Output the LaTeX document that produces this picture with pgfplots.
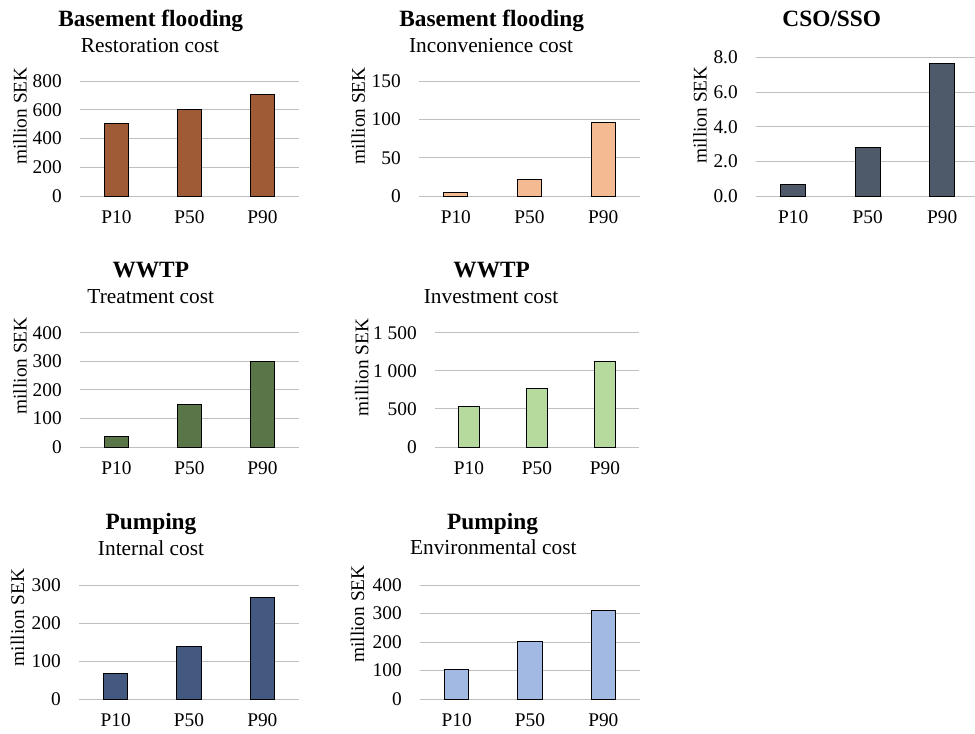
\documentclass[border=0pt]{standalone}
\usepackage{pgfplots}
\pgfplotsset{compat=1.18}
\usepackage{fontspec}
\setmainfont{Liberation Serif}

\definecolor{brownbar}{HTML}{9E5B35}
\definecolor{peachbar}{HTML}{F4BA92}
\definecolor{slatebar}{HTML}{4E5969}
\definecolor{greenbar}{HTML}{5A7548}
\definecolor{lgreenbar}{HTML}{B6D99E}
\definecolor{navybar}{HTML}{44597F}
\definecolor{lbluebar}{HTML}{A2B9E3}
\definecolor{gridgray}{HTML}{BFBFBF}

\newcommand\tickfont{\fontsize{14.5}{17}\selectfont}
\newcommand\titlefont{\fontsize{17.5}{20}\selectfont\bfseries}
\newcommand\subfont{\fontsize{16}{19}\selectfont}

\pgfplotsset{
  panel/.style={
    scale only axis, anchor=south west,
    xmin=-0.5, xmax=2.5, ymin=0,
    xtick={0,1,2}, xticklabels={P10,P50,P90},
    axis line style={draw=none},
    major tick length=0pt,
    ymajorgrids,
    grid style={draw=gridgray, line width=0.75pt},
    tick label style={font=\tickfont},
    yticklabel style={inner sep=0pt, anchor=east, xshift=-13.5pt},
    xticklabel style={inner sep=0pt, anchor=north, yshift=-11pt},
    bar width=0.33, clip=false,
  },
  costbar/.style={ybar, draw=black, line width=0.75pt, fill=#1},
}

\begin{document}
\begin{tikzpicture}
\useasboundingbox (0,0) rectangle (731.25pt,-549.75pt);

% ---- Basement flooding: restoration cost
\begin{axis}[panel, at={(60pt,-147pt)}, width=164.25pt, height=86.25pt,
  ymax=800, ytick={0,200,400,600,800}, yticklabels={0,200,400,600,800}]
\addplot[costbar=brownbar] coordinates {(0,505) (1,600) (2,705)};
\end{axis}
\node[anchor=base, font=\titlefont] at (113.1pt,-20pt) {Basement flooding};
\node[anchor=base, font=\subfont] at (112.5pt,-39.2pt) {Restoration cost};
\node[rotate=90, font=\tickfont] at (15pt,-87pt) {million SEK};

% ---- Basement flooding: inconvenience cost
\begin{axis}[panel, at={(314.25pt,-147pt)}, width=165.75pt, height=86pt,
  ymax=150, ytick={0,50,100,150}, yticklabels={0,50,100,150}]
\addplot[costbar=peachbar] coordinates {(0,5) (1,22) (2,96)};
\end{axis}
\node[anchor=base, font=\titlefont] at (368.8pt,-20pt) {Basement flooding};
\node[anchor=base, font=\subfont] at (368.3pt,-39.2pt) {Inconvenience cost};
\node[rotate=90, font=\tickfont] at (268.7pt,-86.9pt) {million SEK};

% ---- CSO/SSO
\begin{axis}[panel, at={(567pt,-147pt)}, width=167.6pt, height=103.8pt,
  ymax=8, ytick={0,2,4,6,8}, yticklabels={0.0,2.0,4.0,6.0,8.0}]
\addplot[costbar=slatebar] coordinates {(0,0.65) (1,2.8) (2,7.65)};
\end{axis}
\node[anchor=base, font=\titlefont] at (623.8pt,-19.5pt) {CSO/SSO};
\node[rotate=90, font=\tickfont] at (525pt,-86.25pt) {million SEK};

% ---- WWTP: treatment cost
\begin{axis}[panel, at={(60pt,-335.25pt)}, width=164.25pt, height=85.7pt,
  ymax=400, ytick={0,100,200,300,400}, yticklabels={0,100,200,300,400}]
\addplot[costbar=greenbar] coordinates {(0,37) (1,150) (2,299)};
\end{axis}
\node[anchor=base, font=\titlefont] at (113.1pt,-208pt) {WWTP};
\node[anchor=base, font=\subfont] at (113.1pt,-227.5pt) {Treatment cost};
\node[rotate=90, font=\tickfont] at (15pt,-274.4pt) {million SEK};

% ---- WWTP: investment cost
\begin{axis}[panel, at={(326.25pt,-335.25pt)}, width=153pt, height=85.7pt,
  ymax=1500, ytick={0,500,1000,1500}, yticklabels={0,500,1 000,1 500},
  bar width=0.31]
\addplot[costbar=lgreenbar] coordinates {(0,530) (1,770) (2,1125)};
\end{axis}
\node[anchor=base, font=\titlefont] at (368.8pt,-208pt) {WWTP};
\node[anchor=base, font=\subfont] at (368.3pt,-227.5pt) {Investment cost};
\node[rotate=90, font=\tickfont] at (271.3pt,-275.6pt) {million SEK};

% ---- Pumping: internal cost
\begin{axis}[panel, at={(59.25pt,-524.25pt)}, width=165pt, height=85.5pt,
  ymax=300, ytick={0,100,200,300}, yticklabels={0,100,200,300}]
\addplot[costbar=navybar] coordinates {(0,67) (1,137) (2,268)};
\end{axis}
\node[anchor=base, font=\titlefont] at (113.25pt,-397pt) {Pumping};
\node[anchor=base, font=\subfont] at (113.25pt,-416.25pt) {Internal cost};
\node[rotate=90, font=\tickfont] at (13.1pt,-463.1pt) {million SEK};

% ---- Pumping: environmental cost
\begin{axis}[panel, at={(315pt,-524.25pt)}, width=165pt, height=85.5pt,
  ymax=400, ytick={0,100,200,300,400}, yticklabels={0,100,200,300,400}]
\addplot[costbar=lbluebar] coordinates {(0,105) (1,203) (2,312)};
\end{axis}
\node[anchor=base, font=\titlefont] at (369.4pt,-397pt) {Pumping};
\node[anchor=base, font=\subfont] at (370pt,-415.5pt) {Environmental cost};
\node[rotate=90, font=\tickfont] at (268.1pt,-460.5pt) {million SEK};

\end{tikzpicture}
\end{document}
